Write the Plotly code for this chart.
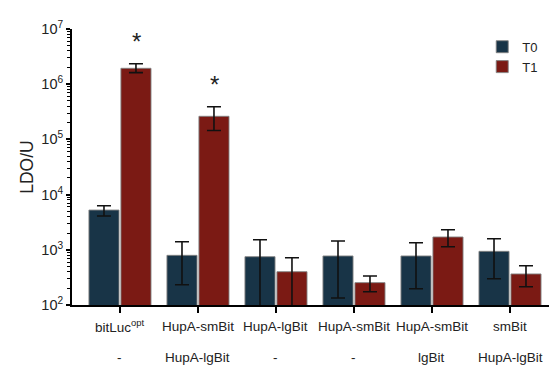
import numpy as np
import plotly.graph_objects as go

categories_top = ["bitLuc<sup>opt</sup>", "HupA-smBit", "HupA-lgBit", "HupA-smBit", "HupA-smBit", "smBit"]
categories_bottom = ["-", "HupA-lgBit", "-", "-", "lgBit", "HupA-lgBit"]

t0_values = [5250, 794, 750, 773, 773, 938]
t0_err_hi = [6300, 1400, 1520, 1443, 1346, 1590]
t0_err_lo = [4100, 233, 50, 134, 197, 299]

t1_values = [1.94e6, 2.62e5, 401, 254, 1706, 365]
t1_err_hi = [2.35e6, 3.9e5, 720, 335, 2310, 515]
t1_err_lo = [1.62e6, 1.45e5, 50, 174, 1138, 214]

significant = [True, True, False, False, False, False]

y_tickvals = [1e2, 1e3, 1e4, 1e5, 1e6, 1e7]
y_ticktext = ["10<sup>2</sup>", "10<sup>3</sup>", "10<sup>4</sup>", "10<sup>5</sup>", "10<sup>6</sup>", "10<sup>7</sup>"]

x = list(range(len(categories_top)))

FONT = "Liberation Sans, Arial, sans-serif"
C0 = "#183447"
C1 = "#7B1A14"


def err(vals, hi, lo):
    return dict(type="data", symmetric=False,
                array=[h - v for h, v in zip(hi, vals)],
                arrayminus=[v - l for l, v in zip(lo, vals)],
                color="#111111", thickness=1.6, width=7)


fig = go.Figure()
fig.add_trace(go.Bar(x=x, y=t0_values, name="T0", marker=dict(color=C0, line=dict(color="rgba(130,130,130,0.9)", width=1)),
                     error_y=err(t0_values, t0_err_hi, t0_err_lo)))
fig.add_trace(go.Bar(x=x, y=t1_values, name="T1", marker=dict(color=C1, line=dict(color="rgba(130,130,130,0.9)", width=1)),
                     error_y=err(t1_values, t1_err_hi, t1_err_lo)))

annotations = []
for i, (a, b) in enumerate(zip(categories_top, categories_bottom)):
    annotations.append(dict(x=i, y=0, xref="x", yref="paper", text=a, showarrow=False,
                            yanchor="middle", yshift=-21, font=dict(size=13.5, color="#222", family=FONT)))
    annotations.append(dict(x=i, y=0, xref="x", yref="paper", text=b, showarrow=False,
                            yanchor="middle", yshift=-52, font=dict(size=13.5, color="#222", family=FONT)))
for i, s in enumerate(significant):
    if s:
        annotations.append(dict(x=i + 0.21, y=float(np.log10(t1_err_hi[i])), xref="x", yref="y", text="*",
                                showarrow=False, yanchor="middle", yshift=22,
                                font=dict(size=24, color="#222", family=FONT)))

fig.update_layout(
    width=554, height=365,
    margin=dict(l=72, r=5, t=29, b=60, autoexpand=False),
    paper_bgcolor="white", plot_bgcolor="white",
    barmode="group", bargap=0.18, bargroupgap=0.06,
    font=dict(family=FONT, color="#222"),
    showlegend=True,
    legend=dict(x=0.86, y=0.99, xanchor="left", yanchor="top", font=dict(size=13, family=FONT),
                bgcolor="rgba(0,0,0,0)", itemwidth=30, tracegroupgap=0),
    annotations=annotations,
)
fig.update_xaxes(range=[-0.615, 5.5], tickvals=x, ticktext=["" for _ in x], ticks="outside", ticklen=6,
                 tickwidth=2, tickcolor="black", showline=True, linecolor="black", linewidth=2,
                 showgrid=False, zeroline=False, automargin=False)
fig.update_yaxes(type="log", range=[2, 7], tickvals=y_tickvals, ticktext=y_ticktext, ticks="outside",
                 ticklen=4, tickwidth=2, tickcolor="black", showline=True, linecolor="black", linewidth=2,
                 showgrid=False, zeroline=False, automargin=False, tickfont=dict(size=14.5, family=FONT, color="#222"),
                 minor=dict(ticks="outside", ticklen=3, tickwidth=1, tickcolor="black", dtick="D1", showgrid=False),
                 title=dict(text="LDO/U", font=dict(size=17.5, family=FONT, color="#222"), standoff=3))

fig.write_html("out.html", config={"displayModeBar": False},
               post_script="document.body.style.margin='0';document.body.style.overflow='hidden';")
